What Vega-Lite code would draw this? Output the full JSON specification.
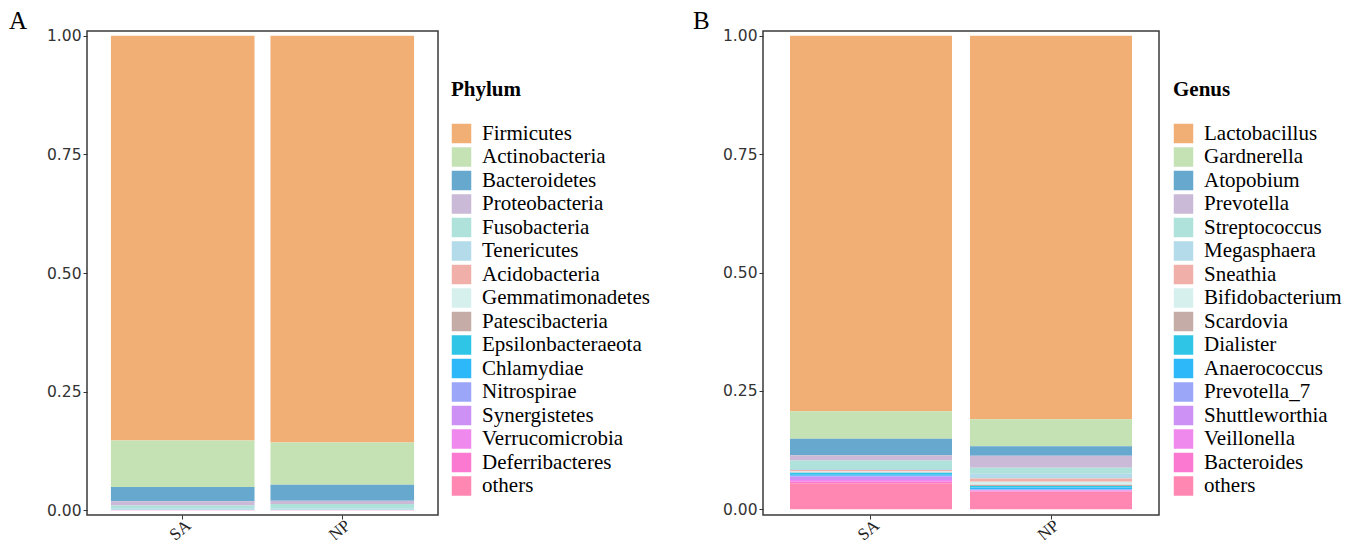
{
  "$schema": "https://vega.github.io/schema/vega-lite/v6.json",
  "bounds": "flush",
  "padding": {"left": 8, "top": 7, "right": 5, "bottom": 0},
  "spacing": 325,
  "config": {
    "view": {"stroke": "#3a3a3a", "strokeWidth": 1.5},
    "axis": {"grid": false, "domain": false, "tickColor": "#333", "tickSize": 4, "title": null},
    "legend": {"orient": "none"}
  },
  "datasets": {
    "phylum": [
      {"sample": "SA", "taxon": "Firmicutes", "k": 1, "value": 0.853},
      {"sample": "SA", "taxon": "Actinobacteria", "k": 2, "value": 0.098},
      {"sample": "SA", "taxon": "Bacteroidetes", "k": 3, "value": 0.030},
      {"sample": "SA", "taxon": "Proteobacteria", "k": 4, "value": 0.009},
      {"sample": "SA", "taxon": "Fusobacteria", "k": 5, "value": 0.006},
      {"sample": "SA", "taxon": "Tenericutes", "k": 6, "value": 0.002},
      {"sample": "SA", "taxon": "Acidobacteria", "k": 7, "value": 0.0004},
      {"sample": "SA", "taxon": "Gemmatimonadetes", "k": 8, "value": 0.0003},
      {"sample": "SA", "taxon": "Patescibacteria", "k": 9, "value": 0.0003},
      {"sample": "SA", "taxon": "Epsilonbacteraeota", "k": 10, "value": 0.0002},
      {"sample": "SA", "taxon": "Chlamydiae", "k": 11, "value": 0.0002},
      {"sample": "SA", "taxon": "Nitrospirae", "k": 12, "value": 0.0001},
      {"sample": "SA", "taxon": "Synergistetes", "k": 13, "value": 0.0001},
      {"sample": "SA", "taxon": "Verrucomicrobia", "k": 14, "value": 0.0001},
      {"sample": "SA", "taxon": "Deferribacteres", "k": 15, "value": 0.0001},
      {"sample": "SA", "taxon": "others", "k": 16, "value": 0.0002},
      {"sample": "NP", "taxon": "Firmicutes", "k": 1, "value": 0.857},
      {"sample": "NP", "taxon": "Actinobacteria", "k": 2, "value": 0.089},
      {"sample": "NP", "taxon": "Bacteroidetes", "k": 3, "value": 0.034},
      {"sample": "NP", "taxon": "Proteobacteria", "k": 4, "value": 0.007},
      {"sample": "NP", "taxon": "Fusobacteria", "k": 5, "value": 0.010},
      {"sample": "NP", "taxon": "Tenericutes", "k": 6, "value": 0.001},
      {"sample": "NP", "taxon": "Acidobacteria", "k": 7, "value": 0.0004},
      {"sample": "NP", "taxon": "Gemmatimonadetes", "k": 8, "value": 0.0003},
      {"sample": "NP", "taxon": "Patescibacteria", "k": 9, "value": 0.0003},
      {"sample": "NP", "taxon": "Epsilonbacteraeota", "k": 10, "value": 0.0002},
      {"sample": "NP", "taxon": "Chlamydiae", "k": 11, "value": 0.0002},
      {"sample": "NP", "taxon": "Nitrospirae", "k": 12, "value": 0.0001},
      {"sample": "NP", "taxon": "Synergistetes", "k": 13, "value": 0.0001},
      {"sample": "NP", "taxon": "Verrucomicrobia", "k": 14, "value": 0.0001},
      {"sample": "NP", "taxon": "Deferribacteres", "k": 15, "value": 0.0001},
      {"sample": "NP", "taxon": "others", "k": 16, "value": 0.0002}
    ],
    "genus": [
      {"sample": "SA", "taxon": "Lactobacillus", "k": 1, "value": 0.793},
      {"sample": "SA", "taxon": "Gardnerella", "k": 2, "value": 0.058},
      {"sample": "SA", "taxon": "Atopobium", "k": 3, "value": 0.035},
      {"sample": "SA", "taxon": "Prevotella", "k": 4, "value": 0.011},
      {"sample": "SA", "taxon": "Streptococcus", "k": 5, "value": 0.018},
      {"sample": "SA", "taxon": "Megasphaera", "k": 6, "value": 0.002},
      {"sample": "SA", "taxon": "Sneathia", "k": 7, "value": 0.003},
      {"sample": "SA", "taxon": "Bifidobacterium", "k": 8, "value": 0.002},
      {"sample": "SA", "taxon": "Scardovia", "k": 9, "value": 0.001},
      {"sample": "SA", "taxon": "Dialister", "k": 10, "value": 0.003},
      {"sample": "SA", "taxon": "Anaerococcus", "k": 11, "value": 0.003},
      {"sample": "SA", "taxon": "Prevotella_7", "k": 12, "value": 0.002},
      {"sample": "SA", "taxon": "Shuttleworthia", "k": 13, "value": 0.007},
      {"sample": "SA", "taxon": "Veillonella", "k": 14, "value": 0.004},
      {"sample": "SA", "taxon": "Bacteroides", "k": 15, "value": 0.003},
      {"sample": "SA", "taxon": "others", "k": 16, "value": 0.055},
      {"sample": "NP", "taxon": "Lactobacillus", "k": 1, "value": 0.810},
      {"sample": "NP", "taxon": "Gardnerella", "k": 2, "value": 0.057},
      {"sample": "NP", "taxon": "Atopobium", "k": 3, "value": 0.020},
      {"sample": "NP", "taxon": "Prevotella", "k": 4, "value": 0.025},
      {"sample": "NP", "taxon": "Streptococcus", "k": 5, "value": 0.013},
      {"sample": "NP", "taxon": "Megasphaera", "k": 6, "value": 0.010},
      {"sample": "NP", "taxon": "Sneathia", "k": 7, "value": 0.007},
      {"sample": "NP", "taxon": "Bifidobacterium", "k": 8, "value": 0.006},
      {"sample": "NP", "taxon": "Scardovia", "k": 9, "value": 0.003},
      {"sample": "NP", "taxon": "Dialister", "k": 10, "value": 0.003},
      {"sample": "NP", "taxon": "Anaerococcus", "k": 11, "value": 0.004},
      {"sample": "NP", "taxon": "Prevotella_7", "k": 12, "value": 0.001},
      {"sample": "NP", "taxon": "Shuttleworthia", "k": 13, "value": 0.001},
      {"sample": "NP", "taxon": "Veillonella", "k": 14, "value": 0.002},
      {"sample": "NP", "taxon": "Bacteroides", "k": 15, "value": 0.001},
      {"sample": "NP", "taxon": "others", "k": 16, "value": 0.037}
    ]
  },
  "hconcat": [
    {
      "width": 351,
      "height": 484,
      "title": {"text": "A", "anchor": "start", "frame": "group", "orient": "top", "dx": -78, "dy": 25, "offset": 0, "baseline": "alphabetic", "font": "Liberation Serif", "fontSize": 25, "fontWeight": "normal", "color": "#000"},
      "data": {"name": "phylum"},
      "mark": {"type": "bar"},
      "encoding": {
        "x": {"field": "sample", "type": "nominal", "sort": ["SA", "NP"],
              "scale": {"paddingInner": 0.1, "paddingOuter": 0.15},
              "axis": {"labelAngle": -40, "labelAlign": "right", "labelBaseline": "middle", "labelFont": "Liberation Serif", "labelFontSize": 17, "labelColor": "#222", "labelPadding": 4, "labelOffset": 6}},
        "y": {"field": "value", "type": "quantitative", "stack": "zero",
              "scale": {"domain": [-0.01, 1.01], "nice": false, "zero": false},
              "axis": {"values": [0, 0.25, 0.5, 0.75, 1], "format": ".2f", "labelFont": "DejaVu Sans", "labelFontSize": 15.5, "labelColor": "#333", "labelPadding": 2}},
        "order": {"field": "k", "sort": "descending"},
        "color": {"field": "taxon", "type": "nominal",
                  "scale": {"domain": ["Firmicutes", "Actinobacteria", "Bacteroidetes", "Proteobacteria", "Fusobacteria", "Tenericutes", "Acidobacteria", "Gemmatimonadetes", "Patescibacteria", "Epsilonbacteraeota", "Chlamydiae", "Nitrospirae", "Synergistetes", "Verrucomicrobia", "Deferribacteres", "others"],
                            "range": ["#F2AF75", "#C5E2B5", "#67A8CE", "#CBBAD7", "#AFE2DB", "#B3DBE9", "#F1AFA9", "#D6F0EE", "#C6ACA6", "#2EC5E6", "#2DB9F9", "#9BA6F8", "#CD91F6", "#F089ED", "#FC79D2", "#FF87B1"]},
                  "legend": {"title": "Phylum", "orient": "none", "legendX": 364, "legendY": 48, "titleFont": "Liberation Serif", "titleFontSize": 21, "titleFontWeight": "bold", "titleColor": "#000", "titlePadding": 23,
                             "labelFont": "Liberation Serif", "labelFontSize": 21, "labelColor": "#000", "labelOffset": 10, "symbolType": "square", "symbolSize": 380, "symbolStrokeWidth": 0, "symbolOpacity": 1, "rowPadding": 1.5, "labelLimit": 300}}
      }
    },
    {
      "width": 396,
      "height": 484,
      "title": {"text": "B", "anchor": "start", "frame": "group", "orient": "top", "dx": -70, "dy": 25, "offset": 0, "baseline": "alphabetic", "font": "Liberation Serif", "fontSize": 25, "fontWeight": "normal", "color": "#000"},
      "data": {"name": "genus"},
      "mark": {"type": "bar"},
      "encoding": {
        "x": {"field": "sample", "type": "nominal", "sort": ["SA", "NP"],
              "scale": {"paddingInner": 0.1, "paddingOuter": 0.15},
              "axis": {"labelAngle": -40, "labelAlign": "right", "labelBaseline": "middle", "labelFont": "Liberation Serif", "labelFontSize": 17, "labelColor": "#222", "labelPadding": 4, "labelOffset": 6}},
        "y": {"field": "value", "type": "quantitative", "stack": "zero",
              "scale": {"domain": [-0.012, 1.01], "nice": false, "zero": false},
              "axis": {"values": [0, 0.25, 0.5, 0.75, 1], "format": ".2f", "labelFont": "DejaVu Sans", "labelFontSize": 15.5, "labelColor": "#333", "labelPadding": 2}},
        "order": {"field": "k", "sort": "descending"},
        "color": {"field": "taxon", "type": "nominal",
                  "scale": {"domain": ["Lactobacillus", "Gardnerella", "Atopobium", "Prevotella", "Streptococcus", "Megasphaera", "Sneathia", "Bifidobacterium", "Scardovia", "Dialister", "Anaerococcus", "Prevotella_7", "Shuttleworthia", "Veillonella", "Bacteroides", "others"],
                            "range": ["#F2AF75", "#C5E2B5", "#67A8CE", "#CBBAD7", "#AFE2DB", "#B3DBE9", "#F1AFA9", "#D6F0EE", "#C6ACA6", "#2EC5E6", "#2DB9F9", "#9BA6F8", "#CD91F6", "#F089ED", "#FC79D2", "#FF87B1"]},
                  "legend": {"title": "Genus", "orient": "none", "legendX": 410, "legendY": 48, "titleFont": "Liberation Serif", "titleFontSize": 21, "titleFontWeight": "bold", "titleColor": "#000", "titlePadding": 23,
                             "labelFont": "Liberation Serif", "labelFontSize": 21, "labelColor": "#000", "labelOffset": 10, "symbolType": "square", "symbolSize": 380, "symbolStrokeWidth": 0, "symbolOpacity": 1, "rowPadding": 1.5, "labelLimit": 300}}
      }
    }
  ],
  "resolve": {"scale": {"color": "independent"}, "legend": {"color": "independent"}}
}
